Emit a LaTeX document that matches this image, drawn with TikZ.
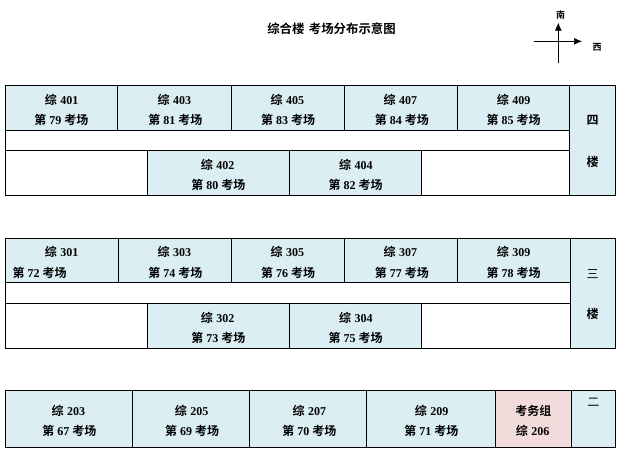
\documentclass[tikz,border=0pt]{standalone}
\usepackage{fontspec}
\setmainfont{Liberation Serif}
\newfontfamily\cjkb[BoldFont={Noto Sans CJK SC Bold}]{Noto Sans CJK SC}
\usetikzlibrary{arrows.meta}
\definecolor{roomblue}{HTML}{DAEEF3}
\definecolor{roompink}{HTML}{F2DCDB}
\newcommand{\zh}[1]{{\cjkb\bfseries #1}}
\newcommand{\zhthin}[1]{{\cjkb #1}}
\newcommand{\zong}[1]{\zh{综}\hspace{3.5pt}{\bfseries #1}}
\newcommand{\kc}[1]{\zh{第}\hspace{3pt}{\bfseries #1}\hspace{3pt}\zh{考场}}
\tikzset{
  x=1pt,y=-1pt,
  room/.style={draw=black,line width=0.8pt,fill=roomblue},
  hall/.style={draw=black,line width=0.8pt,fill=white},
  office/.style={draw=black,line width=0.8pt,fill=roompink},
  lbl/.style={inner sep=0pt,font=\fontsize{12}{14}\selectfont,text=black},
  ttl/.style={inner sep=0pt,font=\fontsize{12.4}{14}\selectfont,text=black},
  dirlbl/.style={inner sep=0pt,font=\fontsize{9}{10}\selectfont,text=black},
  axis/.style={draw=black,line width=0.7pt},
  axisarrow/.style={axis,-{Latex[length=8pt,width=7pt]}},
}
\begin{document}
\begin{tikzpicture}
\useasboundingbox (0,0) rectangle (621,451);
% title and compass
\node[ttl] (title) at (331.5,29) {\zh{综合楼\hspace{4.5pt}考场分布示意图}};
\coordinate (ntop) at (558.3,22.7);
\coordinate (nbot) at (558.3,62.7);
\coordinate (eleft) at (534,41.3);
\coordinate (eright) at (582,41.3);
\draw[axisarrow] (nbot) -- (ntop);
\draw[axisarrow] (eleft) -- (eright);
\node[dirlbl] (south) at (560.7,15.3) {\zh{南}};
\node[dirlbl] (west) at (597,47) {\zh{西}};
% fourth floor
\draw[hall] (5.3,130.3) rectangle (569.3,150.3);
\draw[hall] (5.3,150.3) rectangle (147.3,195.3);
\draw[hall] (421.3,150.3) rectangle (569.3,195.3);
\foreach \a/\b in {5.3/117.3,117.3/231.3,231.3/344.3,344.3/457.3,457.3/569.3}
  \draw[room] (\a,85.3) rectangle (\b,130.3);
\foreach \a/\b in {147.3/289.7,289.7/421.3}
  \draw[room] (\a,150.3) rectangle (\b,195.3);
\draw[room] (569.3,85.3) rectangle (615.3,195.3);
\node[lbl] (r401) at (61.5,100) {\zong{401}};
\node[lbl] (e79) at (61.3,119.7) {\kc{79}};
\node[lbl] (r403) at (174.3,100) {\zong{403}};
\node[lbl] (e81) at (175.3,119.7) {\kc{81}};
\node[lbl] (r405) at (287.3,100) {\zong{405}};
\node[lbl] (e83) at (288,119.7) {\kc{83}};
\node[lbl] (r407) at (400.3,100) {\zong{407}};
\node[lbl] (e84) at (401.8,119.7) {\kc{84}};
\node[lbl] (r409) at (513.7,100) {\zong{409}};
\node[lbl] (e85) at (513.7,119.7) {\kc{85}};
\node[lbl] (r402) at (217.5,165) {\zong{402}};
\node[lbl] (e80) at (218.3,185) {\kc{80}};
\node[lbl] (r404) at (355.8,165) {\zong{404}};
\node[lbl] (e82) at (355.7,185) {\kc{82}};
\node[lbl] (f4a) at (592.7,120.7) {\zh{四}};
\node[lbl] (f4b) at (592.7,161.7) {\zh{楼}};
% third floor
\draw[hall] (5.3,282) rectangle (570.3,303.7);
\draw[hall] (5.3,303.7) rectangle (147.3,348.3);
\draw[hall] (421.3,303.7) rectangle (570.3,348.3);
\foreach \a/\b in {5.3/118.3,118.3/231.3,231.3/344.3,344.3/457.3,457.3/570.3}
  \draw[room] (\a,238.7) rectangle (\b,282);
\foreach \a/\b in {147.3/289.7,289.7/421.3}
  \draw[room] (\a,303.7) rectangle (\b,348.3);
\draw[room] (570.3,238.7) rectangle (615.3,348.3);
\node[lbl] (r301) at (61.5,252.3) {\zong{301}};
\node[lbl] (e72) at (39.7,272.7) {\kc{72}};
\node[lbl] (r303) at (174.3,252.3) {\zong{303}};
\node[lbl] (e74) at (175.3,272.7) {\kc{74}};
\node[lbl] (r305) at (287.3,252.3) {\zong{305}};
\node[lbl] (e76) at (288,272.7) {\kc{76}};
\node[lbl] (r307) at (400.3,252.3) {\zong{307}};
\node[lbl] (e77) at (401.8,272.7) {\kc{77}};
\node[lbl] (r309) at (513.7,252.3) {\zong{309}};
\node[lbl] (e78) at (513.7,272.7) {\kc{78}};
\node[lbl] (r302) at (217.5,318.3) {\zong{302}};
\node[lbl] (e73) at (218.3,338.3) {\kc{73}};
\node[lbl] (r304) at (355.8,318.3) {\zong{304}};
\node[lbl] (e75) at (355.7,338.3) {\kc{75}};
\node[lbl] (f3a) at (592.7,274.3) {\zhthin{三}};
\node[lbl] (f3b) at (592.7,314.3) {\zh{楼}};
% second floor
\foreach \a/\b in {5.3/132.3,132.3/249.3,249.3/366.3,366.3/495.3}
  \draw[room] (\a,390.3) rectangle (\b,447);
\draw[office] (495.3,390.3) rectangle (571.3,447);
\draw[room] (571.3,390.3) rectangle (615.3,447);
\node[lbl] (r203) at (68.3,410.7) {\zong{203}};
\node[lbl] (e67) at (69.3,431.3) {\kc{67}};
\node[lbl] (r205) at (191.7,410.7) {\zong{205}};
\node[lbl] (e69) at (192,431.3) {\kc{69}};
\node[lbl] (r207) at (309.3,410.7) {\zong{207}};
\node[lbl] (e70) at (309.3,431.3) {\kc{70}};
\node[lbl] (r209) at (431.7,410.7) {\zong{209}};
\node[lbl] (e71) at (431.3,431.3) {\kc{71}};
\node[lbl] (staff) at (533.3,410.7) {\zh{考务组}};
\node[lbl] (r206) at (532.7,431.3) {\zong{206}};
\node[lbl] (f2a) at (593.3,402.3) {\zhthin{二}};
\end{tikzpicture}
\end{document}
